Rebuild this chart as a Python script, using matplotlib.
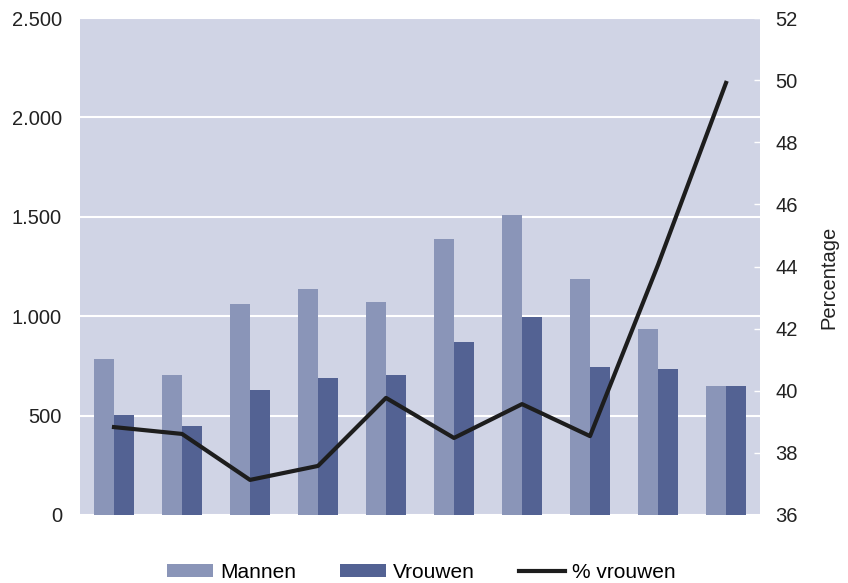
import numpy as np
import matplotlib

matplotlib.use("Agg")
import matplotlib.pyplot as plt
from matplotlib.ticker import FuncFormatter

plt.rcParams["font.family"] = ["Liberation Sans", "DejaVu Sans"]

# data (10 unlabeled groups)
groups = list(range(10))
mannen = [785, 704, 1061, 1137, 1071, 1388, 1509, 1187, 936, 649]
vrouwen = [503, 448, 629, 689, 704, 870, 996, 744, 734, 649]
pct_vrouwen = [38.83, 38.61, 37.13, 37.58, 39.77, 38.48, 39.57, 38.54, 44.05, 49.91]

c_mannen = "#8a95b8"
c_vrouwen = "#536293"
c_bg = "#d0d4e5"
c_line = "#1d1d1d"
c_text = "#222222"

fig = plt.figure(figsize=(8.48, 5.83), dpi=100)
ax = fig.add_axes([80 / 848, 1 - 515 / 583, 680 / 848, 497 / 583])
ax.set_facecolor(c_bg)

x = np.array(groups, dtype=float)
w = 0.3
ax.bar(x - w / 2, mannen, width=w, color=c_mannen, label="Mannen", zorder=2)
ax.bar(x + w / 2, vrouwen, width=w, color=c_vrouwen, label="Vrouwen", zorder=2)

ax.set_xlim(-0.5, len(groups) - 0.5)
ax.set_ylim(0, 2500)
ax.set_yticks([0, 500, 1000, 1500, 2000, 2500])
ax.yaxis.set_major_formatter(FuncFormatter(lambda v, _: f"{v:,.0f}".replace(",", ".")))
ax.grid(axis="y", color="white", linewidth=1.5, zorder=1)
ax.set_axisbelow(True)
ax.set_xticks([])
ax.tick_params(axis="y", length=0, pad=13, labelsize=14.5, labelcolor=c_text)
for s in ax.spines.values():
    s.set_visible(False)

ax2 = ax.twinx()
ax2.plot(x, pct_vrouwen, color=c_line, linewidth=3, label="% vrouwen", zorder=3)
ax2.set_ylim(36, 52)
ax2.set_yticks(range(36, 53, 2))
ax2.tick_params(axis="y", direction="in", length=4, width=1, color="white",
                pad=11, labelsize=14.5, labelcolor=c_text)
for s in ax2.spines.values():
    s.set_visible(False)
ax2.set_ylabel("Percentage", fontsize=14.5, color=c_text)
ax2.yaxis.set_label_coords(1.088, 0.479)

h1, l1 = ax.get_legend_handles_labels()
h2, l2 = ax2.get_legend_handles_labels()
fig.legend(h1 + h2, l1 + l2, loc="center", bbox_to_anchor=(0.497, 1 - 572 / 583),
           ncol=3, frameon=False, fontsize=15, handlelength=2.2, handleheight=0.6,
           columnspacing=2.1, handletextpad=0.35)

fig.savefig("out.png", dpi=100)
